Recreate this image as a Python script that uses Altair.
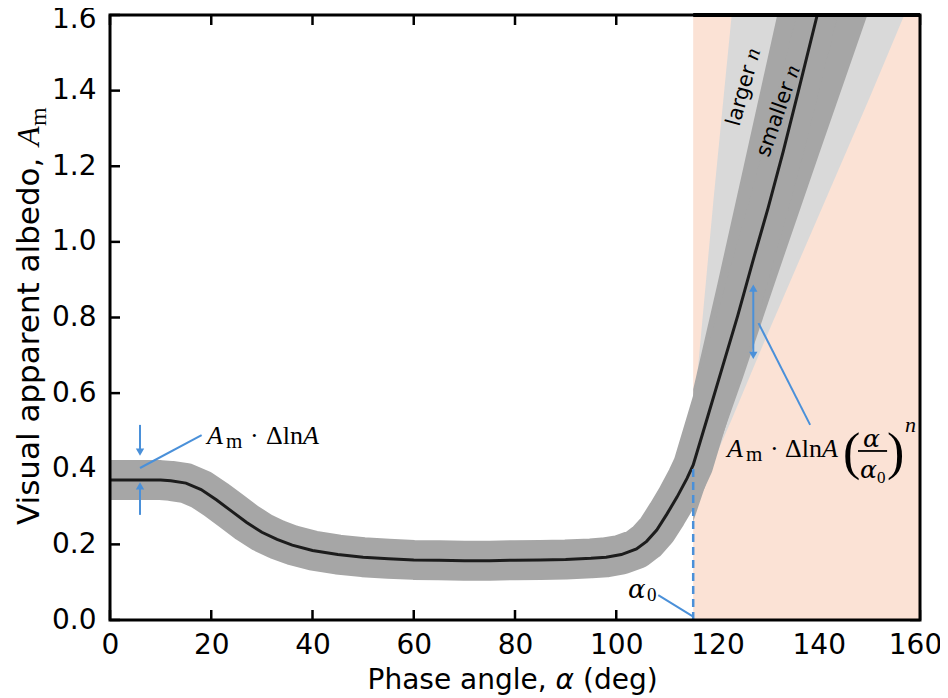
import altair as alt
import pandas as pd

# ---------------- data ----------------
alpha = [0, 5, 10, 12, 15, 18, 21, 24, 27, 30, 33, 36, 40, 45, 50, 55, 60, 65, 70, 75, 80,
         85, 90, 95, 98, 101, 104, 106, 108, 110, 112, 114, 115.2, 118, 121, 124, 127, 130,
         133, 136, 139.7]
albedo = [0.370, 0.370, 0.370, 0.368, 0.362, 0.345, 0.318, 0.288, 0.258, 0.232, 0.213, 0.198,
          0.184, 0.173, 0.166, 0.162, 0.159, 0.158, 0.157, 0.157, 0.158, 0.159, 0.160, 0.163,
          0.166, 0.173, 0.188, 0.208, 0.238, 0.280, 0.325, 0.375, 0.410, 0.535, 0.670, 0.805,
          0.950, 1.090, 1.240, 1.400, 1.600]

alpha0 = 115.2
alpha_max = 160

# "smaller n" envelope (dark band) beyond alpha0
dark_alpha = [115.2, 120, 125, 131.8, 140, 149.6]
dark_hi = [0.61, 0.89, 1.19, 1.60, 1.60, 1.60]
dark_lo = [0.26, 0.45, 0.64, 0.91, 1.23, 1.60]

# "larger n" envelope (light band) beyond alpha0
light_alpha = [115.2, 119.2, 122.8, 130, 140, 150, 156.9]
light_hi = [0.53, 1.11, 1.60, 1.60, 1.60, 1.60, 1.60]
light_lo = [0.30, 0.42, 0.53, 0.76, 1.07, 1.38, 1.60]

x_ticks = [0, 20, 40, 60, 80, 100, 120, 140, 160]
y_ticks = [0.0, 0.2, 0.4, 0.6, 0.8, 1.0, 1.2, 1.4, 1.6]

# annotation geometry (data coordinates)
blue_segments = {
    "x": [5.93, 5.93, 5.93, 127.07, 128.1, 108.3],
    "y": [0.516, 0.278, 0.402, 0.700, 0.785, 0.066],
    "x2": [5.93, 5.93, 18.1, 127.07, 138.3, 115.2],
    "y2": [0.447, 0.352, 0.489, 0.878, 0.516, 0.009],
}
arrow_heads = {
    "x": [5.93, 5.93, 127.07, 127.07],
    "y": [0.444, 0.355, 0.878, 0.700],
    "shape": ["triangle-down", "triangle-up", "triangle-up", "triangle-down"],
}

# ---------------- styling ----------------
W, H = 810, 605
PINK = "#FBE2D5"
DARK = "#A6A6A6"
LIGHT = "#D9D9D9"
BLUE = "#4A90D9"
SANS = "DejaVu Sans"
SERIF = "Liberation Serif"
GSERIF = "DejaVu Serif"

xs = alt.Scale(domain=[0, 160], nice=False, zero=False)
ys = alt.Scale(domain=[0, 1.6], nice=False, zero=False)

AX = alt.Axis(values=x_ticks, domain=False, ticks=False, tickSize=0, labelPadding=11,
              labelFontSize=28, labelFont=SANS, labelColor="black", title=None, grid=False,
              labelFlush=False, labelOverlap=False,
              labelOffset={"condition": {"test": "datum.value >= 159", "value": -5}, "value": 0})
AY = alt.Axis(values=y_ticks, format=".1f", domain=False, ticks=False, tickSize=0,
              labelPadding=14, labelFontSize=28, labelFont=SANS, labelColor="black",
              title=None, grid=False, labelFlush=False, labelOverlap=False,
              labelOffset={"condition": {"test": "datum.value >= 1.59", "value": 4}, "value": 0})

curve = pd.DataFrame({"a": alpha, "v": albedo})
dark = pd.DataFrame({"a": dark_alpha, "hi": dark_hi, "lo": dark_lo})
light = pd.DataFrame({"a": light_alpha, "hi": light_hi, "lo": light_lo})
xt = pd.DataFrame({"t": x_ticks})
yt = pd.DataFrame({"t": y_ticks})
one = pd.DataFrame({"k": [0]})

X = lambda f: alt.X(f, scale=xs, axis=AX)
Y = lambda f: alt.Y(f, scale=ys, axis=AY)

layers = []

# ticks (inward), drawn under the shaded region
tk = dict(color="black", strokeWidth=2.5)
layers.append(alt.Chart(xt).mark_rule(**tk).encode(x=X("t:Q"), y=alt.value(H), y2=alt.value(H - 10)))
layers.append(alt.Chart(xt).mark_rule(**tk).encode(x=X("t:Q"), y=alt.value(0), y2=alt.value(10)))
layers.append(alt.Chart(yt).mark_rule(**tk).encode(y=Y("t:Q"), x=alt.value(0), x2=alt.value(10)))
layers.append(alt.Chart(yt).mark_rule(**tk).encode(y=Y("t:Q"), x=alt.value(W), x2=alt.value(W - 10)))

# shaded region beyond alpha0
span = pd.DataFrame({"a0": [alpha0], "a1": [alpha_max]})
layers.append(alt.Chart(span).mark_rect(color=PINK).encode(
    x=X("a0:Q"), x2="a1:Q", y=alt.value(0), y2=alt.value(H)))

# envelopes
layers.append(alt.Chart(light).mark_area(color=LIGHT, clip=True).encode(x=X("a:Q"), y=Y("hi:Q"), y2="lo:Q"))
layers.append(alt.Chart(dark).mark_area(color=DARK, clip=True).encode(x=X("a:Q"), y=Y("hi:Q"), y2="lo:Q"))
layers.append(alt.Chart(curve).mark_line(color=DARK, strokeWidth=40, strokeJoin="round", clip=True).encode(
    x=X("a:Q"), y=Y("v:Q")))

# main curve
layers.append(alt.Chart(curve).mark_line(color="#1c1c1c", strokeWidth=3, clip=True).encode(
    x=X("a:Q"), y=Y("v:Q")))

# alpha0 dashed marker
a0line = pd.DataFrame({"a": [alpha0], "v0": [0.0], "v1": [0.41]})
layers.append(alt.Chart(a0line).mark_rule(color=BLUE, strokeWidth=2.5, strokeDash=[8, 5]).encode(
    x=X("a:Q"), y=Y("v0:Q"), y2="v1:Q"))

# blue annotation lines and arrow heads
layers.append(alt.Chart(pd.DataFrame(blue_segments)).mark_rule(color=BLUE, strokeWidth=2).encode(
    x=X("x:Q"), y=Y("y:Q"), x2="x2:Q", y2="y2:Q"))
layers.append(alt.Chart(pd.DataFrame(arrow_heads)).mark_point(filled=True, color=BLUE, size=70, opacity=1).encode(
    x=X("x:Q"), y=Y("y:Q"), shape=alt.Shape("shape:N", scale=None)))


def txt(a, v, text, dx=0, dy=0, size=26, font=SERIF, style="normal", align="left",
        baseline="alphabetic", angle=0):
    anchor = pd.DataFrame({"a": [a], "v": [v]})
    kw = dict(text=text, dx=dx, dy=dy, fontSize=size, font=font, fontStyle=style, align=align,
              baseline=baseline, color="black")
    if angle:
        kw["angle"] = angle
    return alt.Chart(anchor).mark_text(**kw).encode(x=X("a:Q"), y=Y("v:Q"))


def ptxt(px, py, text, size=28, font=SANS, style="normal", align="left", baseline="alphabetic", angle=0):
    kw = dict(text=text, fontSize=size, font=font, fontStyle=style, align=align, baseline=baseline,
              color="black")
    if angle:
        kw["angle"] = angle
    return alt.Chart(one).mark_text(**kw).encode(x=alt.value(px), y=alt.value(py))


# left annotation: A_m · ΔlnA
la, lv = 19.16, 0.466
layers += [
    txt(la, lv, "A", 0, 0, 26, style="italic"),
    txt(la, lv, "m", 19, 4, 21),
    txt(la, lv, "·", 43, 0, 26),
    txt(la, lv, "Δln", 59, 0, 26),
    txt(la, lv, "A", 96, 0, 26, style="italic"),
]

# right annotation: A_m · ΔlnA (α/α0)^n
ra, rv = 121.88, 0.431
layers += [
    txt(ra, rv, "A", 0, 0, 26, style="italic"),
    txt(ra, rv, "m", 19, 4, 21),
    txt(ra, rv, "·", 43, 0, 26),
    txt(ra, rv, "Δln", 58, 0, 26),
    txt(ra, rv, "A", 95, 0, 26, style="italic"),
    txt(ra, rv, "(", 116, 12, 52),
    txt(ra, rv, "α", 136, -10, 25, font=GSERIF, style="italic"),
    txt(ra, rv, "α", 133, 21, 25, font=GSERIF, style="italic"),
    txt(ra, rv, "0", 150, 26, 17),
    txt(ra, rv, ")", 160, 12, 52),
    txt(ra, rv, "n", 178, -25, 22, style="italic"),
]
frac = pd.DataFrame({"a": [147.75], "a2": [153.5], "v": [0.447]})
layers.append(alt.Chart(frac).mark_rule(color="black", strokeWidth=1.8).encode(
    x=X("a:Q"), x2="a2:Q", y=Y("v:Q")))

# alpha0 label
layers += [
    txt(102.3, 0.058, "α", 0, 0, 26, font=GSERIF, style="italic"),
    txt(102.3, 0.058, "0", 19, 3, 19),
]

# larger n / smaller n
layers += [
    txt(125.1, 1.411, "larger", 21.5, 7, 21, font=SANS, align="right", angle=285.5),
    txt(125.1, 1.411, "n", 28, 7, 22, style="italic", angle=285.5),
    txt(132.0, 1.349, "smaller", 29, 7, 21, font=SANS, align="right", angle=289.3),
    txt(132.0, 1.349, "n", 35.5, 7, 22, style="italic", angle=289.3),
]

# axis titles
layers += [
    ptxt(257.5, 674, "Phase angle,"),
    ptxt(445.5, 674, "α", style="italic"),
    ptxt(473, 674, "(deg)"),
    ptxt(-71, 510, "Visual apparent albedo,", size=31, angle=270),
    ptxt(-71, 131, "A", size=32, font=SERIF, style="italic", angle=270),
    ptxt(-64, 111, "m", size=24, font=SERIF, angle=270),
]

# frame
layers.append(alt.Chart(one).mark_rule(color="black", strokeWidth=4).encode(
    x=alt.value(W * alpha0 / 160), x2=alt.value(W), y=alt.value(0)))
layers.append(alt.Chart(one).mark_rect(fillOpacity=0, stroke="black", strokeWidth=3).encode(
    x=alt.value(0), x2=alt.value(W), y=alt.value(0), y2=alt.value(H)))

chart = alt.layer(*layers).properties(
    width=W, height=H,
    autosize=alt.AutoSizeParams(type="none"),
    padding={"left": 102, "top": 7, "right": 20, "bottom": 80},
).configure_view(stroke=None)

chart.save("out.html", embed_options={"renderer": "svg", "actions": False})
